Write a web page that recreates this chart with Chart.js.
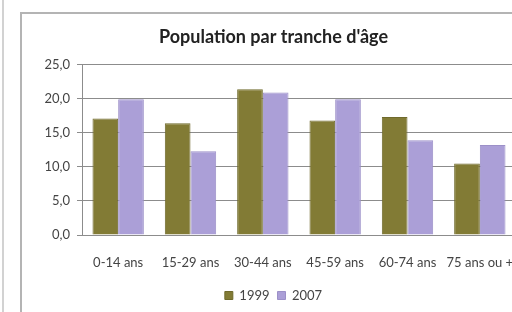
<!DOCTYPE html>
<html>
<head>
<meta charset="utf-8">
<script src="https://cdn.jsdelivr.net/npm/chart.js@4"></script>
<style>
  html, body { margin: 0; padding: 0; background: #fff; overflow: hidden; width: 512px; height: 312px; }
  #wrap { position: relative; width: 512px; height: 312px; overflow: hidden; }
  #edge { position: absolute; left: 2px; top: 0; width: 2px; height: 312px; background: #d2d2d2; }
  #frame { position: absolute; left: 20px; top: 12px; width: 600px; height: 400px; border: 2px solid #b4b4b4; box-sizing: border-box; }
  canvas { position: absolute; left: 0; top: 0; }
</style>
</head>
<body>
<div id="wrap">
  <div id="edge"></div>
  <div id="frame"></div>
  <canvas id="c" width="547" height="312"></canvas>
</div>
<script>
const titleText = "Population par tranche d'âge";
const categories = ['0-14 ans', '15-29 ans', '30-44 ans', '45-59 ans', '60-74 ans', '75 ans ou +'];
const values1999 = [17.1, 16.4, 21.4, 16.8, 17.3, 10.5];
const values2007 = [19.9, 12.3, 20.9, 19.9, 13.9, 13.2];
const seriesNames = ['1999', '2007'];
const yTickLabels = ['0,0', '5,0', '10,0', '15,0', '20,0', '25,0'];

const FONT = 'Lato, "Open Sans", sans-serif';

new Chart(document.getElementById('c'), {
  type: 'bar',
  data: {
    labels: categories,
    datasets: [
      { label: seriesNames[0], data: values1999, backgroundColor: '#827b35', borderColor: '#6f6a2c', borderWidth: 1 },
      { label: seriesNames[1], data: values2007, backgroundColor: '#ab9fd7', borderColor: '#9c90c8', borderWidth: 1 }
    ]
  },
  options: {
    responsive: false,
    animation: false,
    devicePixelRatio: 1,
    layout: { padding: { left: 31, right: 31, top: 0, bottom: 0 } },
    datasets: { bar: { categoryPercentage: 0.71, barPercentage: 1.0 } },
    plugins: {
      title: {
        display: true,
        text: titleText,
        color: '#222',
        font: { family: FONT, size: 18, weight: 'bold' },
        padding: { top: 26, bottom: 17 }
      },
      legend: {
        display: true,
        position: 'bottom',
        labels: {
          boxWidth: 8, boxHeight: 8, padding: 8,
          color: '#444',
          font: { family: FONT, size: 13 }
        }
      },
      tooltip: { enabled: false }
    },
    scales: {
      x: {
        grid: { display: false, drawTicks: false },
        border: { display: true, color: '#8c8c8c', width: 1 },
        ticks: { color: '#444', font: { family: FONT, size: 13 }, padding: 20, maxRotation: 0, autoSkip: false },
        afterFit: (s) => { s.height = 46; }
      },
      y: {
        min: 0, max: 25,
        grid: { color: '#8c8c8c', lineWidth: 1, tickLength: 5, drawTicks: true },
        border: { display: true, color: '#8c8c8c', width: 1 },
        ticks: {
          stepSize: 5,
          color: '#444',
          padding: 7,
          font: { family: FONT, size: 13 },
          callback: (v, i) => yTickLabels[i]
        },
        afterFit: (s) => { s.width = 51; }
      }
    }
  }
});
</script>
</body>
</html>
